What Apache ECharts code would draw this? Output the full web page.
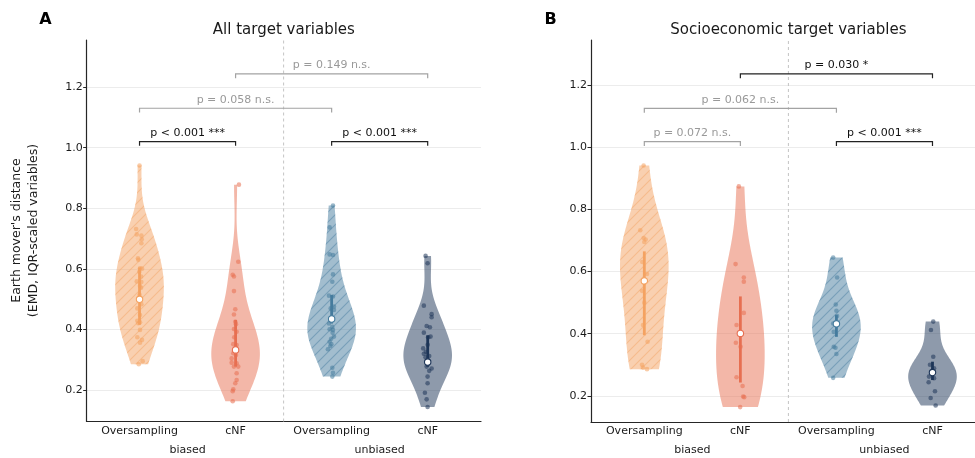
<!DOCTYPE html>
<html>
<head>
<meta charset="utf-8">
<script src="https://cdn.jsdelivr.net/npm/echarts@6/dist/echarts.min.js"></script>
<style>
  html, body { margin: 0; padding: 0; background: #ffffff; }
  #chart { width: 975px; height: 458px; }
</style>
</head>
<body>
<div id="chart"></div>
<script>
// ---- categories and labels ----
const categories = ['Oversampling', 'cNF', 'Oversampling', 'cNF'];
const groups = ['biased', 'unbiased'];
const groupCenters = [0.5, 2.5];
const panelTitles = ['All target variables', 'Socioeconomic target variables'];
const panelLetters = ['A', 'B'];
const yTicks = [0.2, 0.4, 0.6, 0.8, 1.0, 1.2];

// ---- panel A: all target variables (EMD per variable) ----
const allOversBiased = [0.941,0.732,0.714,0.710,0.698,0.685,0.635,0.630,0.602,0.601,0.591,0.575,0.559,0.557,0.544,0.538,0.515,0.500,0.484,0.470,0.448,0.429,0.424,0.421,0.399,0.375,0.366,0.357,0.296,0.286];
const allOversBiasedJitter = [0,-0.036,-0.029,0.019,0.023,0.019,-0.016,-0.013,0.005,0.026,-0.002,0.016,-0.029,0.019,0.005,0.016,0,0,0.019,-0.023,0.005,-0.023,0.005,-0.013,0.005,-0.023,0.026,0.005,0.033,-0.008];
const allCnfBiased = [0.878,0.624,0.581,0.575,0.527,0.467,0.450,0.426,0.418,0.402,0.393,0.375,0.352,0.349,0.340,0.333,0.322,0.316,0.305,0.291,0.289,0.278,0.278,0.256,0.234,0.223,0.203,0.197,0.164];
const allCnfBiasedJitter = [0.035,0.028,-0.030,-0.017,-0.017,-0.003,-0.017,-0.003,0.004,-0.017,0.011,-0.014,-0.024,0.011,0,0,-0.024,0.004,-0.041,-0.041,0.011,-0.017,0.028,0.011,0.011,-0.003,-0.024,-0.030,-0.030];
const allOversUnbiased = [0.809,0.737,0.648,0.646,0.582,0.558,0.512,0.509,0.476,0.470,0.465,0.440,0.430,0.420,0.409,0.401,0.399,0.390,0.377,0.370,0.360,0.352,0.346,0.335,0.274,0.258,0.245];
const allOversUnbiasedJitter = [0.014,-0.021,-0.021,0.014,0.014,0.007,-0.028,0.014,0.024,-0.010,0.024,0,-0.010,-0.028,0.007,-0.021,0.014,0.010,0.024,-0.005,-0.021,-0.003,-0.014,-0.039,0.007,0.014,0.007];
const allCnfUnbiased = [0.643,0.619,0.479,0.451,0.441,0.412,0.408,0.390,0.377,0.375,0.350,0.338,0.327,0.320,0.313,0.309,0.300,0.293,0.285,0.278,0.272,0.264,0.245,0.223,0.192,0.170,0.145];
const allCnfUnbiasedJitter = [-0.022,-0.001,-0.040,0.041,0.041,-0.011,0.023,-0.040,0.030,0.005,0,-0.047,-0.019,-0.040,0.016,-0.022,0,0,0,-0.011,0.041,0.016,-0.001,-0.001,-0.029,-0.011,-0.001];
const allMedian = [0.500, 0.333, 0.435, 0.293];
const allQ1 = [0.416, 0.278, 0.420, 0.278];
const allQ3 = [0.605, 0.432, 0.514, 0.381];
// [from, to, height, label, significant]
const allBrackets = [
  [0, 1, 1.020, 'p < 0.001 ***', 1],
  [0, 2, 1.130, 'p = 0.058 n.s.', 0],
  [1, 3, 1.243, 'p = 0.149 n.s.', 0],
  [2, 3, 1.020, 'p < 0.001 ***', 1]
];

// ---- panel B: socioeconomic target variables ----
const socOversBiased = [0.941,0.733,0.708,0.703,0.695,0.631,0.592,0.572,0.538,0.500,0.428,0.374,0.300,0.291,0.286];
const socOversBiasedJitter = [-0.007,-0.042,-0.007,0.014,0,-0.021,0.028,-0.007,-0.024,0,-0.014,0.034,-0.024,-0.014,0.028];
const socCnfBiased = [0.874,0.624,0.581,0.567,0.467,0.428,0.401,0.371,0.358,0.260,0.232,0.198,0.196,0.164];
const socCnfBiasedJitter = [-0.016,-0.050,0.036,0.036,0.036,-0.040,0,-0.047,0.002,-0.040,0.023,0.029,0.040,-0.002];
const socOversUnbiased = [0.645,0.581,0.494,0.474,0.457,0.433,0.432,0.406,0.358,0.355,0.335,0.258];
const socOversUnbiasedJitter = [-0.034,0.007,-0.007,0,0.007,-0.034,0,-0.028,-0.028,-0.010,0,-0.034];
const socCnfUnbiased = [0.439,0.412,0.326,0.300,0.289,0.275,0.262,0.257,0.244,0.215,0.193,0.169];
const socCnfUnbiasedJitter = [0.008,-0.016,0.008,-0.026,0.016,0,-0.036,0.016,-0.040,0.026,-0.019,0.033];
const socMedian = [0.570, 0.401, 0.432, 0.275];
const socQ1 = [0.395, 0.243, 0.390, 0.251];
const socQ3 = [0.665, 0.520, 0.460, 0.310];
const socBrackets = [
  [0, 1, 1.018, 'p = 0.072 n.s.', 0],
  [0, 2, 1.125, 'p = 0.062 n.s.', 0],
  [1, 3, 1.236, 'p = 0.030 *', 1],
  [2, 3, 1.018, 'p < 0.001 ***', 1]
];

// ---- styling ----
const FONT = '"DejaVu Sans", Verdana, sans-serif';
const baseColors = ['#f4a261', '#e76f51', '#457b9d', '#1d3557'];
const hatched = [true, false, true, false];
const HALF_WIDTH = 0.253;   // half violin width at peak density, in category units
const BRACKET_LEG = 0.014;

function rgba(hex, a) {
  const n = parseInt(hex.slice(1), 16);
  return 'rgba(' + ((n >> 16) & 255) + ',' + ((n >> 8) & 255) + ',' + (n & 255) + ',' + a + ')';
}

function hatchTile(color) {
  const s = 10;
  const c = document.createElement('canvas');
  c.width = s; c.height = s;
  const g = c.getContext('2d');
  g.strokeStyle = color;
  g.lineWidth = 1.1;
  g.beginPath();
  g.moveTo(0, s); g.lineTo(s, 0);
  g.moveTo(-1, 1); g.lineTo(1, -1);
  g.moveTo(s - 1, s + 1); g.lineTo(s + 1, s - 1);
  g.stroke();
  return c;
}
const hatchTiles = baseColors.map(c => hatchTile(rgba(c, 0.45)));

// Gaussian KDE (Scott's rule), evaluated between the data extremes
function kdeProfile(vals, steps) {
  const n = vals.length;
  const mean = vals.reduce((a, b) => a + b, 0) / n;
  const sd = Math.sqrt(vals.reduce((a, b) => a + (b - mean) * (b - mean), 0) / (n - 1));
  const bw = sd * Math.pow(n, -0.2);
  const lo = Math.min(...vals), hi = Math.max(...vals);
  const out = [];
  let peak = 0;
  for (let k = 0; k <= steps; k++) {
    const y = lo + (hi - lo) * k / steps;
    let d = 0;
    for (const v of vals) { const z = (y - v) / bw; d += Math.exp(-0.5 * z * z); }
    out.push([y, d]);
    if (d > peak) peak = d;
  }
  return out.map(p => [p[0], p[1] / peak]);
}

const panels = [
  {
    values: [allOversBiased, allCnfBiased, allOversUnbiased, allCnfUnbiased],
    jitter: [allOversBiasedJitter, allCnfBiasedJitter, allOversUnbiasedJitter, allCnfUnbiasedJitter],
    median: allMedian, q1: allQ1, q3: allQ3, brackets: allBrackets,
    grid: { left: 86.7, top: 40, width: 394.3, height: 381.5 },
    xRange: [-0.55, 3.555], yRange: [0.097, 1.355]
  },
  {
    values: [socOversBiased, socCnfBiased, socOversUnbiased, socCnfUnbiased],
    jitter: [socOversBiasedJitter, socCnfBiasedJitter, socOversUnbiasedJitter, socCnfUnbiasedJitter],
    median: socMedian, q1: socQ1, q3: socQ3, brackets: socBrackets,
    grid: { left: 591, top: 40, width: 394.8, height: 382 },
    xRange: [-0.555, 3.555], yRange: [0.116, 1.345]
  }
];

const AXIS_COLOR = '#262626';
const TEXT_COLOR = '#1a1a1a';

const grids = [], xAxes = [], yAxes = [], series = [], graphics = [];

panels.forEach((P, pi) => {
  grids.push(Object.assign({ containLabel: false, outerBoundsMode: 'none' }, P.grid));
  xAxes.push({
    type: 'value', gridIndex: pi, min: P.xRange[0], max: P.xRange[1],
    axisLine: { show: true, onZero: false, lineStyle: { color: AXIS_COLOR, width: 1.2 } },
    axisTick: { show: false },
    splitLine: { show: false },
    axisLabel: {
      customValues: [0, 1, 2, 3],
      formatter: v => categories[Math.round(v)],
      color: TEXT_COLOR, fontSize: 11, fontFamily: FONT, margin: 4
    }
  });
  yAxes.push({
    type: 'value', gridIndex: pi, min: P.yRange[0], max: P.yRange[1],
    axisLine: { show: true, onZero: false, lineStyle: { color: AXIS_COLOR, width: 1.2 } },
    axisTick: { show: true, customValues: yTicks, length: 3.5, lineStyle: { color: AXIS_COLOR, width: 1 } },
    axisLabel: {
      customValues: yTicks,
      formatter: v => v.toFixed(1),
      color: TEXT_COLOR, fontSize: 11, fontFamily: FONT, margin: 4
    },
    splitLine: { show: true, lineStyle: { color: '#ececec', width: 1 } }
  });

  const profiles = P.values.map(v => kdeProfile(v, 120));

  // divider between biased and unbiased groups + group labels
  series.push({
    type: 'custom', xAxisIndex: pi, yAxisIndex: pi, silent: true, z: 1,
    data: [[1.5, P.yRange[0]]],
    renderItem(params, api) {
      const a = api.coord([1.5, P.yRange[0]]);
      const b = api.coord([1.5, P.yRange[1]]);
      const children = [{
        type: 'line', shape: { x1: a[0], y1: a[1], x2: b[0], y2: b[1] },
        style: { stroke: '#c4c4c4', lineWidth: 1, lineDash: [3, 3] }
      }];
      groups.forEach((g, gi) => {
        const p = api.coord([groupCenters[gi], P.yRange[0]]);
        children.push({
          type: 'text', x: p[0], y: p[1] + 28.5,
          style: { text: g, fill: TEXT_COLOR, font: '11px ' + FONT, align: 'center', verticalAlign: 'middle' }
        });
      });
      return { type: 'group', children };
    }
  });

  // violins
  series.push({
    type: 'custom', xAxisIndex: pi, yAxisIndex: pi, silent: true, z: 2,
    data: P.values.map((v, i) => [i, P.median[i]]),
    renderItem(params, api) {
      const i = params.dataIndex;
      const prof = profiles[i];
      const pts = [];
      for (const [y, w] of prof) pts.push(api.coord([i + w * HALF_WIDTH, y]));
      for (let k = prof.length - 1; k >= 0; k--) pts.push(api.coord([i - prof[k][1] * HALF_WIDTH, prof[k][0]]));
      const children = [{ type: 'polygon', shape: { points: pts }, style: { fill: rgba(baseColors[i], 0.5), stroke: null } }];
      if (hatched[i]) {
        children.push({ type: 'polygon', shape: { points: pts }, style: { fill: { image: hatchTiles[i], repeat: 'repeat' }, stroke: null } });
      }
      return { type: 'group', children };
    }
  });

  // individual points
  const pts = [];
  P.values.forEach((vals, i) => {
    vals.forEach((v, k) => {
      pts.push({ value: [i + P.jitter[i][k], v], itemStyle: { color: baseColors[i], opacity: 0.55 } });
    });
  });
  series.push({
    type: 'scatter', xAxisIndex: pi, yAxisIndex: pi, silent: true, z: 3,
    symbol: 'circle', symbolSize: 4.6, data: pts
  });

  // interquartile bar and median marker
  series.push({
    type: 'custom', xAxisIndex: pi, yAxisIndex: pi, silent: true, z: 4,
    data: P.median.map((m, i) => [i, m]),
    renderItem(params, api) {
      const i = params.dataIndex;
      const a = api.coord([i, P.q1[i]]);
      const b = api.coord([i, P.q3[i]]);
      const m = api.coord([i, P.median[i]]);
      return {
        type: 'group', children: [
          { type: 'line', shape: { x1: a[0], y1: a[1], x2: b[0], y2: b[1] }, style: { stroke: baseColors[i], lineWidth: 2.8 } },
          { type: 'circle', shape: { cx: m[0], cy: m[1], r: 3.2 }, style: { fill: '#ffffff', stroke: baseColors[i], lineWidth: 1.1 } }
        ]
      };
    }
  });

  // significance brackets
  series.push({
    type: 'custom', xAxisIndex: pi, yAxisIndex: pi, silent: true, z: 5,
    data: P.brackets.map(b => [(b[0] + b[1]) / 2, b[2]]),
    renderItem(params, api) {
      const b = P.brackets[params.dataIndex];
      const p1 = api.coord([b[0], b[2] - BRACKET_LEG]);
      const p2 = api.coord([b[0], b[2]]);
      const p3 = api.coord([b[1], b[2]]);
      const p4 = api.coord([b[1], b[2] - BRACKET_LEG]);
      const lineCol = b[4] ? '#222222' : '#a3a3a3';
      const txtCol = b[4] ? '#111111' : '#999999';
      return {
        type: 'group', children: [
          { type: 'polyline', shape: { points: [p1, p2, p3, p4] }, style: { stroke: lineCol, lineWidth: 1.2, fill: null } },
          { type: 'text', x: (p2[0] + p3[0]) / 2, y: p2[1] - 3,
            style: { text: b[3], fill: txtCol, font: '11px ' + FONT, align: 'center', verticalAlign: 'bottom' } }
        ]
      };
    }
  });

  // panel title and letter
  const cx = P.grid.left + P.grid.width / 2;
  graphics.push({
    type: 'text', x: cx, y: 30, silent: true,
    style: { text: panelTitles[pi], fill: TEXT_COLOR, font: '15px ' + FONT, align: 'center', verticalAlign: 'middle' }
  });
  graphics.push({
    type: 'text', x: pi === 0 ? 45.5 : 550.5, y: 19.5, silent: true,
    style: { text: panelLetters[pi], fill: '#000000', font: 'bold 16px ' + FONT, align: 'center', verticalAlign: 'middle' }
  });
});

// shared y-axis title
graphics.push({
  type: 'text', x: 25, y: 230.5, rotation: Math.PI / 2, silent: true,
  style: {
    text: "Earth mover's distance\n(EMD, IQR-scaled variables)",
    fill: TEXT_COLOR, font: '12.5px ' + FONT, align: 'center', verticalAlign: 'middle', lineHeight: 16.5
  }
});

const chart = echarts.init(document.getElementById('chart'), null, { renderer: 'canvas' });
chart.setOption({
  animation: false,
  backgroundColor: '#ffffff',
  grid: grids,
  xAxis: xAxes,
  yAxis: yAxes,
  series: series,
  graphic: graphics
});
</script>
</body>
</html>
